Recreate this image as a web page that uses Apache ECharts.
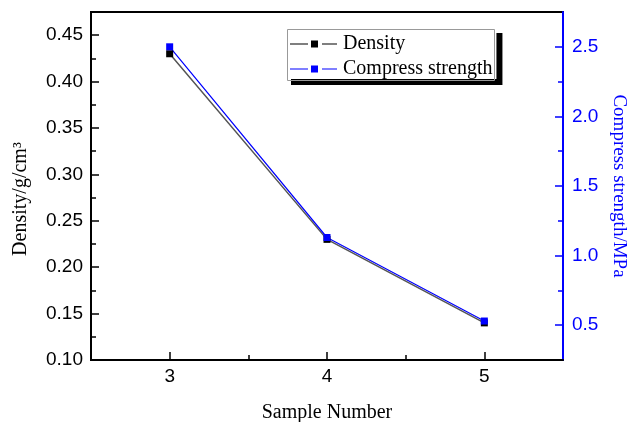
<!DOCTYPE html>
<html>
<head>
<meta charset="utf-8">
<script src="https://cdn.jsdelivr.net/npm/echarts@6/dist/echarts.min.js"></script>
<style>
  html, body { margin: 0; padding: 0; background: #fff; }
  #chart { width: 627px; height: 422px; }
</style>
</head>
<body>
<div id="chart"></div>
<script>
// data
const samples = [3, 4, 5]
const density = [0.43, 0.23, 0.14]
const strength = [2.50, 1.13, 0.53]

const xTicks = [3, 4, 5]
const xMinor = [3.5, 4.5]
const leftTicks = [0.10, 0.15, 0.20, 0.25, 0.30, 0.35, 0.40, 0.45]
const leftMinor = [0.125, 0.175, 0.225, 0.275, 0.325, 0.375, 0.425]
const rightTicks = [0.5, 1.0, 1.5, 2.0, 2.5]
const rightMinor = [0.75, 1.25, 1.75, 2.25]

const blue = '#0000ff'
const serif = 'Liberation Serif'
const sans = 'Liberation Sans'

// legend icon: line - square - line
const legendIcon = 'path://M0,3h18v1h-18z M21,0h7v7h-7z M32,3h15v1h-15z'

const myChart = echarts.init(document.getElementById('chart'))

function minorAxis(base, values) {
  return Object.assign({}, base, {
    name: '',
    axisLine: { show: false },
    axisLabel: { show: false },
    axisTick: { show: true, inside: true, length: 5, customValues: values, lineStyle: { color: base.axisLine.lineStyle.color, width: 1.5 } },
    splitLine: { show: false }
  })
}

const xBase = {
  type: 'value',
  min: 2.5,
  max: 5.5,
  position: 'bottom',
  name: 'Sample Number',
  nameLocation: 'middle',
  nameGap: 43,
  nameTextStyle: { fontFamily: serif, fontSize: 20, color: '#000' },
  axisLine: { onZero: false, lineStyle: { color: '#000', width: 2 } },
  axisTick: { inside: true, length: 8, customValues: xTicks, lineStyle: { width: 1.5 } },
  axisLabel: { customValues: xTicks, margin: 7, fontFamily: sans, fontSize: 19, color: '#000' },
  splitLine: { show: false }
}

const leftBase = {
  type: 'value',
  min: 0.10,
  max: 0.475,
  position: 'left',
  name: 'Density/g/cm³',
  nameLocation: 'middle',
  nameRotate: 90,
  nameGap: 60,
  nameTextStyle: { fontFamily: serif, fontSize: 20, color: '#000', padding: [0, 26, 0, 0] },
  axisLine: { show: true, lineStyle: { color: '#000', width: 2 } },
  axisTick: { inside: true, length: 8, customValues: leftTicks, lineStyle: { width: 1.5 } },
  axisLabel: { customValues: leftTicks, margin: 8, fontFamily: sans, fontSize: 19, color: '#000', formatter: v => v.toFixed(2) },
  splitLine: { show: false }
}

const rightBase = {
  type: 'value',
  min: 0.25,
  max: 2.75,
  position: 'right',
  name: 'Compress strength/MPa',
  nameLocation: 'middle',
  nameRotate: -90,
  nameGap: 36,
  nameTextStyle: { fontFamily: serif, fontSize: 19, color: blue },
  axisLine: { show: true, lineStyle: { color: blue, width: 2 } },
  axisTick: { inside: true, length: 8, customValues: rightTicks, lineStyle: { width: 1.5 } },
  axisLabel: { customValues: rightTicks, margin: 9, fontFamily: sans, fontSize: 19, color: blue, formatter: v => v.toFixed(1) },
  splitLine: { show: false }
}

const option = {
  backgroundColor: '#fff',
  animation: false,
  grid: {
    left: 91,
    right: 64,
    top: 12,
    bottom: 62,
    containLabel: false,
    outerBoundsMode: 'none',
    show: true,
    borderColor: '#000',
    borderWidth: 2
  },
  legend: {
    orient: 'vertical',
    left: 285,
    top: 27,
    padding: [7, 4, 0, 5],
    itemGap: 5,
    itemWidth: 47,
    itemHeight: 7,
    backgroundColor: '#fff',
    borderWidth: 0,
    shadowColor: '#000',
    shadowBlur: 0,
    shadowOffsetX: 6,
    shadowOffsetY: 6,
    textStyle: { fontFamily: serif, fontSize: 20, color: '#000', padding: [0, 0, 0, 1] },
    data: [
      { name: 'Density', icon: legendIcon },
      { name: 'Compress strength', icon: legendIcon }
    ]
  },
  graphic: [
    {
      type: 'rect',
      left: 285,
      top: 27,
      z: 100,
      silent: true,
      shape: { width: 207, height: 51 },
      style: { fill: 'none', stroke: '#999', lineWidth: 1 }
    }
  ],
  xAxis: [xBase, minorAxis(xBase, xMinor)],
  yAxis: [leftBase, rightBase, minorAxis(leftBase, leftMinor), minorAxis(rightBase, rightMinor)],
  series: [
    {
      name: 'Density',
      type: 'line',
      yAxisIndex: 0,
      symbol: 'rect',
      symbolSize: 7,
      color: '#000',
      lineStyle: { color: '#555', width: 1.5 },
      data: samples.map((s, i) => [s, density[i]])
    },
    {
      name: 'Compress strength',
      type: 'line',
      yAxisIndex: 1,
      symbol: 'rect',
      symbolSize: 7,
      color: blue,
      lineStyle: { color: blue, width: 1.2 },
      data: samples.map((s, i) => [s, strength[i]])
    }
  ]
}

myChart.setOption(option)
</script>
</body>
</html>
